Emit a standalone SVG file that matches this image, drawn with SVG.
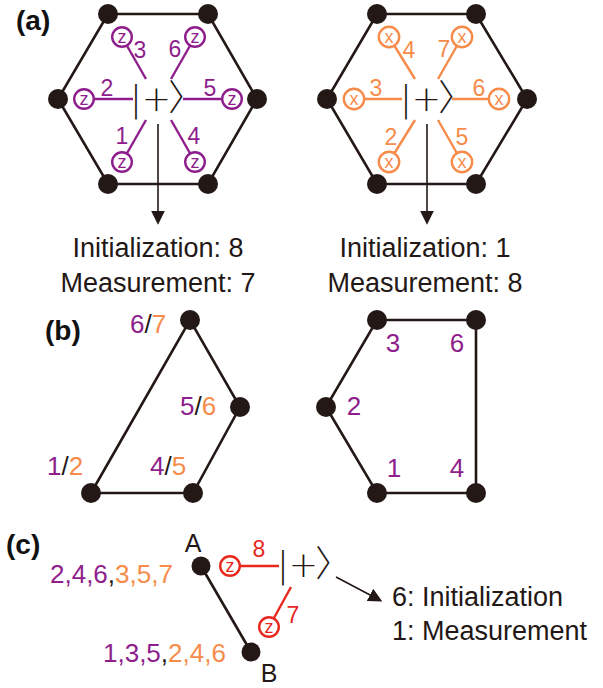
<svg xmlns="http://www.w3.org/2000/svg" width="603" height="688" viewBox="0 0 603 688">
<defs>
<style>
.edge{stroke:#231815;stroke-width:2.6;fill:none}
.dot{fill:#231815}
.pur{stroke:#8E1E8C;stroke-width:2.4;fill:none}
.org{stroke:#F68B4A;stroke-width:2.4;fill:none}
.red{stroke:#E8281F;stroke-width:2.4;fill:none}
.pc{stroke:#8E1E8C;stroke-width:2.4;fill:#fff}
.oc{stroke:#F68B4A;stroke-width:2.4;fill:#fff}
.rc{stroke:#E8281F;stroke-width:2.4;fill:#fff}
text{font-family:"Liberation Sans",Arial,sans-serif}
.num{font-size:23px;text-anchor:middle}
.numb{font-size:26px}
.lt{font-size:18px;text-anchor:middle}
.pf{fill:#8E1E8C}
.of{fill:#F68B4A}
.rf{fill:#E8281F}
.kf{fill:#231815}
.ket{font-family:"DejaVu Sans",sans-serif;font-size:35px;fill:#231815;font-weight:200}
.br{font-family:"Noto Sans CJK JP","Noto Sans CJK SC","DejaVu Sans",sans-serif;font-size:36px;font-weight:300}
.body{font-size:27px;fill:#231815}
.mid{text-anchor:middle}
.panel{font-size:28px;font-weight:bold;fill:#111}
.arr{stroke:#231815;stroke-width:1.6;fill:none}
</style>
<marker id="ah" markerUnits="userSpaceOnUse" markerWidth="14" markerHeight="14" viewBox="0 0 12 12" refX="2" refY="6" orient="auto">
<path d="M0,0 L12,6 L0,12 z" fill="#231815"/>
</marker>
</defs>

<text class="panel" x="16" y="30">(a)</text>
<text class="panel" x="45" y="340">(b)</text>
<text class="panel" x="6" y="554">(c)</text>

<g id="hexA">
<polygon class="edge" points="108,14 208,14 257,99 208,184 108,184 58,99"/>
<circle class="dot" cx="108" cy="14" r="10"/><circle class="dot" cx="208" cy="14" r="10"/>
<circle class="dot" cx="257" cy="99" r="10"/><circle class="dot" cx="208" cy="184" r="10"/>
<circle class="dot" cx="108" cy="184" r="10"/><circle class="dot" cx="58" cy="99" r="10"/>
</g>
<g id="ketA">
<text class="ket" x="130" y="111">|+<tspan class="br" dx="-3">〉</tspan></text>
</g>
<g id="spokesA">
<line class="pur" x1="84" y1="99" x2="133" y2="99"/><circle class="pc" cx="84" cy="99" r="9.8"/><text class="lt pf" x="84" y="104.5">z</text>
<line class="pur" x1="232" y1="99" x2="183" y2="99"/><circle class="pc" cx="232" cy="99" r="9.8"/><text class="lt pf" x="232" y="104.5">z</text>
<line class="pur" x1="122" y1="37" x2="146" y2="79"/><circle class="pc" cx="122" cy="37" r="9.8"/><text class="lt pf" x="122" y="42.5">z</text>
<line class="pur" x1="195" y1="37" x2="171" y2="79"/><circle class="pc" cx="195" cy="37" r="9.8"/><text class="lt pf" x="195" y="42.5">z</text>
<line class="pur" x1="122" y1="162" x2="146" y2="120"/><circle class="pc" cx="122" cy="162" r="9.8"/><text class="lt pf" x="122" y="167.5">z</text>
<line class="pur" x1="195" y1="162" x2="171" y2="120"/><circle class="pc" cx="195" cy="162" r="9.8"/><text class="lt pf" x="195" y="167.5">z</text>
<text class="num pf" x="140" y="58">3</text>
<text class="num pf" x="175" y="57">6</text>
<text class="num pf" x="107" y="96">2</text>
<text class="num pf" x="210" y="96">5</text>
<text class="num pf" x="122" y="144">1</text>
<text class="num pf" x="194" y="144">4</text>
</g>

<g id="hexB">
<polygon class="edge" points="377,14 476,14 527,99 476,184 377,184 327,99"/>
<circle class="dot" cx="377" cy="14" r="10"/><circle class="dot" cx="476" cy="14" r="10"/>
<circle class="dot" cx="527" cy="99" r="10"/><circle class="dot" cx="476" cy="184" r="10"/>
<circle class="dot" cx="377" cy="184" r="10"/><circle class="dot" cx="327" cy="99" r="10"/>
</g>
<g id="ketB">
<text class="ket" x="400" y="111">|+<tspan class="br" dx="-3">〉</tspan></text>
</g>
<g id="spokesB">
<line class="org" x1="354" y1="99" x2="402" y2="99"/><circle class="oc" cx="354" cy="99" r="10.2"/><text class="lt of" x="354" y="104.5">x</text>
<line class="org" x1="499" y1="99" x2="452" y2="99"/><circle class="oc" cx="499" cy="99" r="10.2"/><text class="lt of" x="499" y="104.5">x</text>
<line class="org" x1="389" y1="37" x2="415" y2="79"/><circle class="oc" cx="389" cy="37" r="10.2"/><text class="lt of" x="389" y="42.5">x</text>
<line class="org" x1="462" y1="37" x2="438" y2="79"/><circle class="oc" cx="462" cy="37" r="10.2"/><text class="lt of" x="462" y="42.5">x</text>
<line class="org" x1="389" y1="162" x2="415" y2="120"/><circle class="oc" cx="389" cy="162" r="10.2"/><text class="lt of" x="389" y="167.5">x</text>
<line class="org" x1="462" y1="162" x2="438" y2="120"/><circle class="oc" cx="462" cy="162" r="10.2"/><text class="lt of" x="462" y="167.5">x</text>
<text class="num of" x="409" y="58">4</text>
<text class="num of" x="444" y="57">7</text>
<text class="num of" x="376" y="96">3</text>
<text class="num of" x="479" y="96">6</text>
<text class="num of" x="391" y="145">2</text>
<text class="num of" x="462" y="145">5</text>
</g>

<g id="connectors">
<line class="arr" x1="158" y1="124" x2="158" y2="213" marker-end="url(#ah)"/>
<line class="arr" x1="427" y1="124" x2="427" y2="213" marker-end="url(#ah)"/>
<line class="arr" x1="336" y1="577" x2="372" y2="596" marker-end="url(#ah)"/>
</g>

<g id="textA">
<text class="body mid" x="158" y="257">Initialization: 8</text>
<text class="body mid" x="158" y="292">Measurement: 7</text>
</g>
<g id="textB">
<text class="body mid" x="425" y="257">Initialization: 1</text>
<text class="body mid" x="425" y="292">Measurement: 8</text>
</g>

<g id="quadB">
<polygon class="edge" points="91,493 190,320 240,407 193,493"/>
<circle class="dot" cx="190" cy="320" r="10"/><circle class="dot" cx="240" cy="407" r="10"/>
<circle class="dot" cx="193" cy="493" r="10"/><circle class="dot" cx="91" cy="493" r="10"/>
<text class="numb" x="130" y="333"><tspan class="pf">6</tspan><tspan class="kf">/</tspan><tspan class="of">7</tspan></text>
<text class="numb" x="180" y="415"><tspan class="pf">5</tspan><tspan class="kf">/</tspan><tspan class="of">6</tspan></text>
<text class="numb" x="47" y="475"><tspan class="pf">1</tspan><tspan class="kf">/</tspan><tspan class="of">2</tspan></text>
<text class="numb" x="150" y="475"><tspan class="pf">4</tspan><tspan class="kf">/</tspan><tspan class="of">5</tspan></text>
</g>

<g id="pentB">
<polygon class="edge" points="377,320 476,320 476,493 377,493 326,407"/>
<circle class="dot" cx="377" cy="320" r="10"/><circle class="dot" cx="476" cy="320" r="10"/>
<circle class="dot" cx="326" cy="407" r="10"/><circle class="dot" cx="377" cy="493" r="10"/>
<circle class="dot" cx="476" cy="493" r="10"/>
<text class="numb pf mid" x="393" y="352">3</text>
<text class="numb pf mid" x="457" y="352">6</text>
<text class="numb pf mid" x="354" y="415">2</text>
<text class="numb pf mid" x="394" y="477">1</text>
<text class="numb pf mid" x="457" y="477">4</text>
</g>

<g id="pairC">
<line class="edge" x1="201" y1="566" x2="251" y2="652"/>
<circle class="dot" cx="201" cy="566" r="9.5"/>
<circle class="dot" cx="251" cy="652" r="9.5"/>
<text class="numb kf mid" x="193" y="552" style="font-size:25px">A</text>
<text class="numb kf mid" x="269" y="682" style="font-size:25px">B</text>
<text class="numb" x="50" y="583"><tspan class="pf">2,4,6</tspan><tspan class="kf">,</tspan><tspan class="of">3,5,7</tspan></text>
<text class="numb" x="103" y="662"><tspan class="pf">1,3,5</tspan><tspan class="kf">,</tspan><tspan class="of">2,4,6</tspan></text>
</g>
<g id="ketC">
<text class="ket" x="277" y="577">|+<tspan class="br" dx="-3">〉</tspan></text>
<line class="red" x1="230" y1="566" x2="279" y2="566"/><circle class="rc" cx="230" cy="566" r="9.8"/><text class="lt rf" x="230" y="571.5">z</text>
<line class="red" x1="269" y1="627" x2="291" y2="587"/><circle class="rc" cx="269" cy="627" r="9.8"/><text class="lt rf" x="269" y="632.5">z</text>
<text class="num rf" x="259" y="557">8</text>
<text class="num rf" x="293" y="623">7</text>
</g>
<g id="textC">
<text class="body" x="392" y="606">6: Initialization</text>
<text class="body" x="392" y="640">1: Measurement</text>
</g>
</svg>
